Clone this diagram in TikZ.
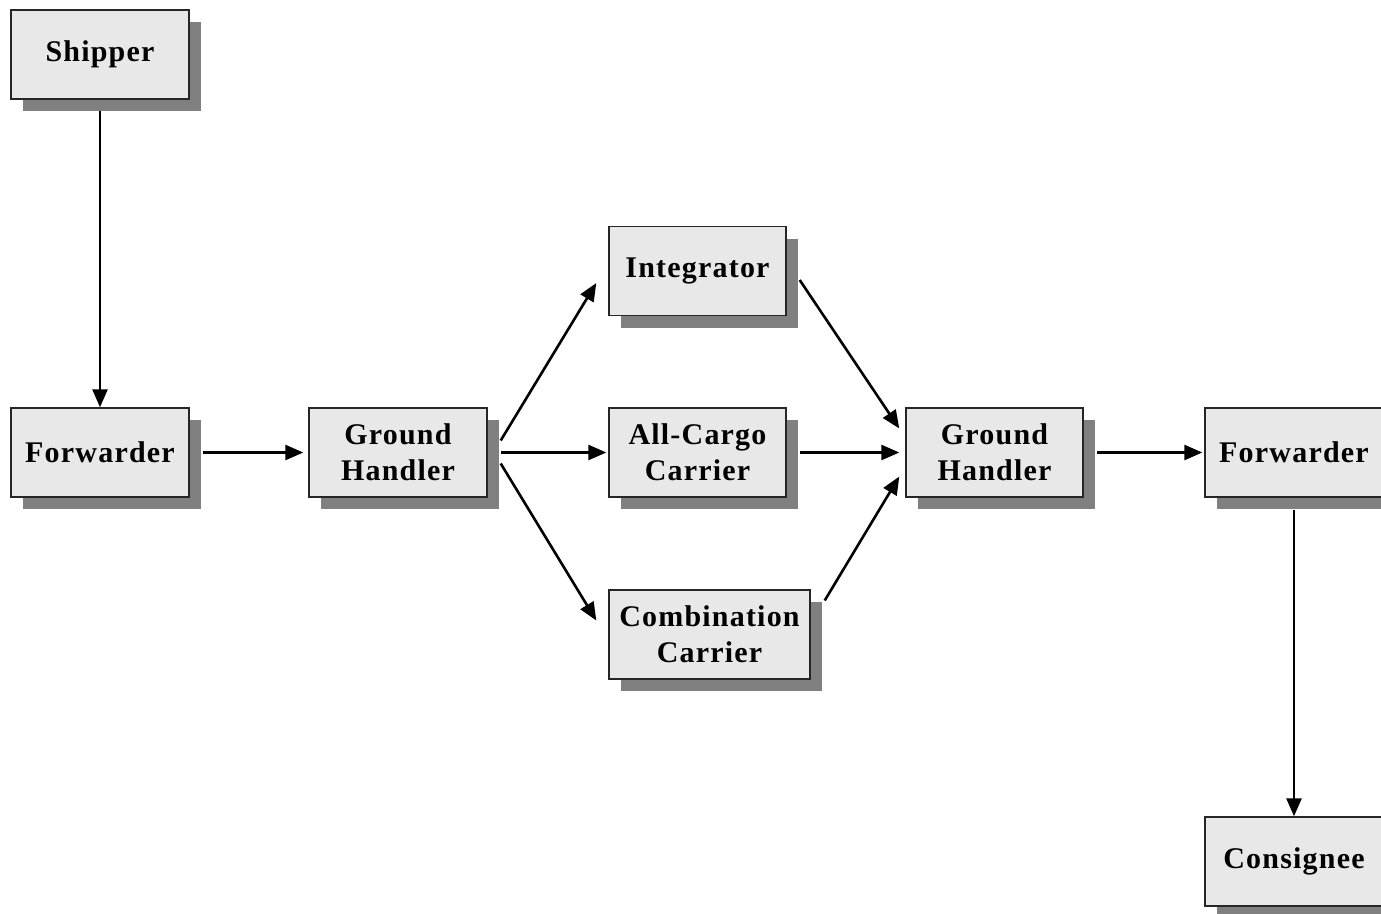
\documentclass[tikz,border=0pt]{standalone}
\usepackage{fontspec}
\setmainfont{Liberation Serif}[LetterSpace=4]
\usetikzlibrary{calc,arrows.meta,shadows}
\begin{document}
\begin{tikzpicture}[x=1pt,y=-1pt,
  box/.style={draw=black!85, line width=1.4pt, fill=black!9, minimum height=89pt,
    align=center, inner sep=0pt, font=\fontsize{30}{36}\selectfont\bfseries,
    drop shadow={shadow xshift=12pt, shadow yshift=-12pt, fill=black!50, opacity=1}},
  conn/.style={line width=2.6pt, -{Triangle[length=18pt,width=15pt]}}
]
\useasboundingbox (0,0) rectangle (1381,913);
\node[box, minimum width=178pt] (ship) at (100,54.5) {Shipper};
\node[box, minimum width=178pt] (fwl) at (100,452.5) {Forwarder};
\node[box, minimum width=178pt] (gh1) at (398,452.5) {Ground\\Handler};
\node[box, minimum width=177pt] (int) at (697.5,271) {Integrator};
\node[box, minimum width=177pt] (acc) at (697.5,452.5) {All-Cargo\\Carrier};
\node[box, minimum width=201pt] (comb) at (709.5,634.5) {Combination\\Carrier};
\node[box, minimum width=177pt] (gh2) at (994.5,452.5) {Ground\\Handler};
\node[box, minimum width=178pt] (fwr) at (1294,452.5) {Forwarder};
\node[box, minimum width=178pt] (cons) at (1294,861.5) {Consignee};

\draw[conn] ($(ship.south)+(0,11)$) -- (fwl.north);
\draw[conn] ($(fwl.east)+(13,0)$) -- ($(gh1.west)+(-5,0)$);
\draw[conn] ($(gh1.east)+(13,-12)$) -- ($(int.west)+(-12,12)$);
\draw[conn] ($(gh1.east)+(13,0)$) -- ($(acc.west)+(-2,0)$);
\draw[conn] ($(gh1.east)+(13,11)$) -- ($(comb.west)+(-12,-14)$);
\draw[conn] ($(int.east)+(13,9)$) -- ($(gh2.west)+(-6,-24)$);
\draw[conn] ($(acc.east)+(13,0)$) -- ($(gh2.west)+(-6,0)$);
\draw[conn] ($(comb.east)+(14,-34)$) -- ($(gh2.west)+(-6,24)$);
\draw[conn] ($(gh2.east)+(13,0)$) -- ($(fwr.west)+(-2,0)$);
\draw[conn] ($(fwr.south)+(0,12)$) -- (cons.north);
\end{tikzpicture}
\end{document}
